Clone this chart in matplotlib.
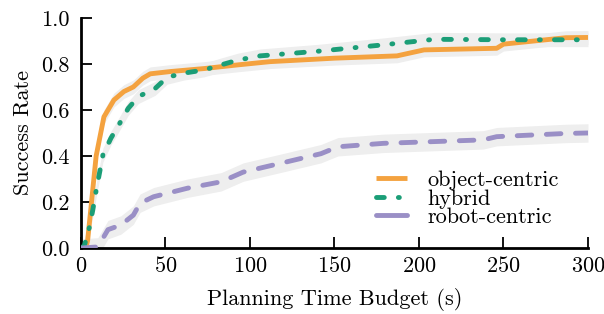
import numpy as np
import matplotlib
matplotlib.use("Agg")
import matplotlib.pyplot as plt

plt.rcParams['font.family'] = ['cmr10', 'DejaVu Serif']
plt.rcParams['axes.formatter.use_mathtext'] = True

# значения
obj_t = [0, 3, 4, 9, 13.6, 19.5, 25.4, 31, 36.6, 41, 53, 73, 93, 112, 150, 187, 203, 246, 250, 287, 300]
obj_y = [0, 0, 0.035, 0.40, 0.57, 0.643, 0.68, 0.70, 0.738, 0.757, 0.767, 0.78, 0.796, 0.81,
         0.825, 0.835, 0.861, 0.868, 0.886, 0.914, 0.915]
obj_band = 0.03

hyb_t = [0, 2, 5, 7, 9, 13, 17.7, 22.4, 28, 34, 44, 51, 61, 73, 83, 93, 106, 140, 179, 209, 250, 300]
hyb_y = [0, 0.01, 0.09, 0.165, 0.25, 0.404, 0.477, 0.535, 0.607, 0.658, 0.694, 0.742, 0.76, 0.774,
         0.796, 0.817, 0.835, 0.855, 0.883, 0.907, 0.905, 0.905]
hyb_band = 0.03

rob_t = [0, 10, 16, 23.6, 31, 35, 43, 63, 83, 96, 122, 142, 152, 179, 238, 246, 287, 300]
rob_y = [0, 0.005, 0.08, 0.10, 0.143, 0.195, 0.223, 0.26, 0.288, 0.33, 0.375, 0.41, 0.44,
         0.455, 0.47, 0.484, 0.498, 0.50]
rob_band = 0.04

series = [
    ("object-centric", obj_t, obj_y, obj_band, "#f4a23f", "-"),
    ("hybrid", hyb_t, hyb_y, hyb_band, "#1b9e77", (0, (1.6, 2.9, 0.2, 2.9))),
    ("robot-centric", rob_t, rob_y, rob_band, "#9a8fc6", (0, (3, 3))),
]

fig, ax = plt.subplots(figsize=(6.04, 3.14), dpi=100)
fig.subplots_adjust(left=0.134, right=0.9735, top=0.943, bottom=0.21)

for label, t, y, band, color, ls in series:
    t = np.array(t)
    y = np.array(y)
    ax.fill_between(t, y - band, y + band, color="#eeeeee", lw=0, zorder=1)
for label, t, y, band, color, ls in series:
    ax.plot(t, y, color=color, lw=3.5, ls=ls, label=label, zorder=3,
            dash_capstyle="round", solid_capstyle="butt")

ax.set_xlim(0, 300)
ax.set_ylim(0, 1.0)
ax.set_xticks(np.arange(0, 301, 50))
ax.set_yticks(np.arange(0, 1.01, 0.2))
ax.set_yticklabels([f"{v:.1f}" for v in np.arange(0, 1.01, 0.2)])
ax.spines['top'].set_visible(False)
ax.spines['right'].set_visible(False)
ax.spines['left'].set_linewidth(2)
ax.spines['bottom'].set_linewidth(2)
ax.tick_params(direction='in', length=8, width=1.3, labelsize=16)
ax.tick_params(axis='y', pad=8)
ax.tick_params(axis='x', pad=6)
ax.set_xlabel("Planning Time Budget (s)", fontsize=16, labelpad=8)
ax.set_ylabel("Success Rate", fontsize=16, labelpad=6)

leg = ax.legend(loc="upper left", bbox_to_anchor=(0.56, 0.385), frameon=False,
                fontsize=16, handlelength=1.4, labelspacing=-0.05, borderpad=0.0,
                handletextpad=0.9)
# в легенде у robot-centric виден только один штрих
rob_handle = leg.get_lines()[2]
rob_handle.set_linestyle("-")
rob_handle.set_solid_capstyle("round")

fig.savefig("out.png", dpi=100)
